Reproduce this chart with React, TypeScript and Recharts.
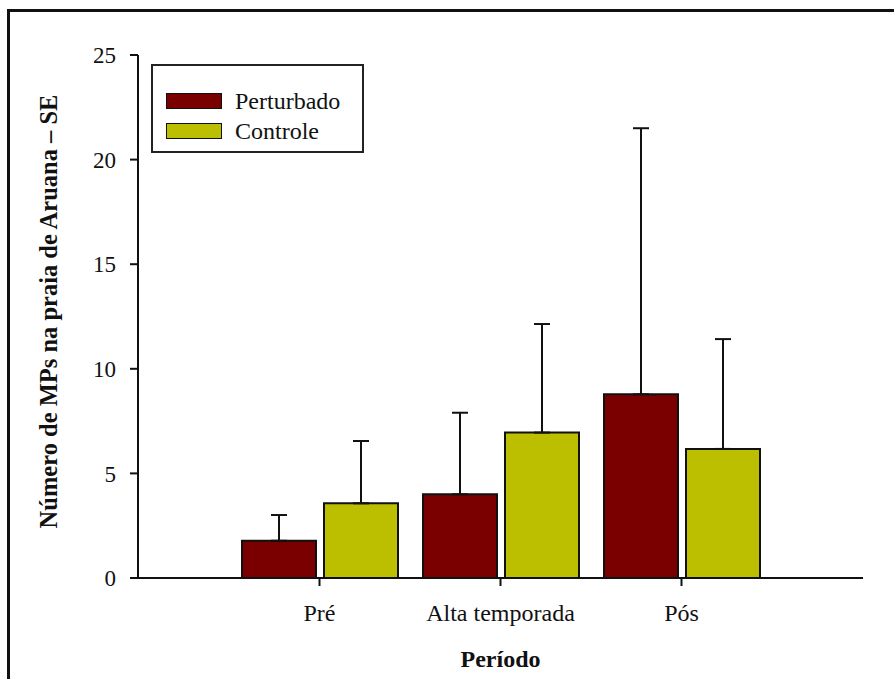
import React from 'react';
import { BarChart, Bar, XAxis, YAxis, ErrorBar, Legend } from 'recharts';

const categories = ['Pré', 'Alta temporada', 'Pós'];
const seriesNames = ['Perturbado', 'Controle'];
const perturbado = [1.78, 4.0, 8.78];
const perturbadoSE = [1.23, 3.9, 12.72];
const controle = [3.57, 6.95, 6.17];
const controleSE = [2.98, 5.19, 5.25];
const yTicks = [0, 5, 10, 15, 20, 25];

const data = categories.map((c, i) => ({
  periodo: c,
  Perturbado: perturbado[i],
  perturbadoErr: [0, perturbadoSE[i]],
  Controle: controle[i],
  controleErr: [0, controleSE[i]],
}));

const FONT = "'Liberation Serif', 'Times New Roman', serif";
const COLORS = { Perturbado: '#7a0000', Controle: '#bbbf00' };

const LegendBox = (props: any) => {
  const payload = [...(props.payload || [])].sort(
    (a: any, b: any) => seriesNames.indexOf(a.value) - seriesNames.indexOf(b.value)
  );
  return (
    <div
      style={{
        width: 213,
        height: 89,
        boxSizing: 'border-box',
        border: '2px solid #222',
        background: '#fff',
        paddingTop: 20,
        paddingLeft: 13,
        fontFamily: FONT,
      }}
    >
      {payload.map((p: any) => (
        <div key={p.value} style={{ display: 'flex', alignItems: 'center', height: 30 }}>
          <div
            style={{
              width: 56,
              height: 16,
              boxSizing: 'border-box',
              background: p.color,
              border: '1.5px solid #111',
              marginRight: 13,
            }}
          />
          <span style={{ fontSize: 24, color: '#111', lineHeight: '30px', fontFamily: FONT }}>{p.value}</span>
        </div>
      ))}
    </div>
  );
};

const YLabel = (props: any) => {
  const vb = props.viewBox || {};
  const cx = vb.x + 48;
  const cy = vb.y + vb.height / 2 - 5;
  return (
    <text
      x={cx}
      y={cy}
      transform={`rotate(-90, ${cx}, ${cy})`}
      textAnchor="middle"
      dominantBaseline="central"
      fontFamily={FONT}
      fontWeight="bold"
      fontSize={24.5}
      fill="#111"
    >
      Número de MPs na praia de Aruana – SE
    </text>
  );
};

const XLabel = (props: any) => {
  const vb = props.viewBox || {};
  return (
    <text
      x={vb.x + vb.width / 2}
      y={vb.y + 89}
      textAnchor="middle"
      fontFamily={FONT}
      fontWeight="bold"
      fontSize={24}
      fill="#111"
    >
      Período
    </text>
  );
};

export default function App() {
  return (
    <div style={{ position: 'absolute', left: 0, top: 0, width: 894, height: 679, background: '#fff', overflow: 'hidden' }}>
      <div
        style={{
          position: 'absolute',
          left: 7,
          top: 9,
          width: 900,
          height: 700,
          border: '3px solid #111',
          boxSizing: 'border-box',
        }}
      />
      <div style={{ position: 'absolute', left: 0, top: 0 }}>
        <BarChart
          width={894}
          height={679}
          data={data}
          margin={{ top: 55, right: 31, bottom: 0, left: 0 }}
          barSize={74}
          barGap={8}
        >
          <XAxis
            dataKey="periodo"
            height={101}
            padding={{ left: 91, right: 91 }}
            tickSize={8}
            tickMargin={18}
            axisLine={{ stroke: '#111', strokeWidth: 2 }}
            tickLine={{ stroke: '#111', strokeWidth: 2 }}
            tick={{ fontSize: 24, fill: '#111', fontFamily: FONT }}
            label={{ content: XLabel }}
          />
          <XAxis
            xAxisId="top"
            dataKey="periodo"
            orientation="top"
            height={0}
            tick={false}
            tickLine={false}
            axisLine={{ stroke: '#222', strokeWidth: 2 }}
          />
          <YAxis
            width={138}
            domain={[0, 25]}
            ticks={yTicks}
            tickSize={8}
            tickMargin={14}
            axisLine={{ stroke: '#111', strokeWidth: 2 }}
            tickLine={{ stroke: '#111', strokeWidth: 2 }}
            tick={{ fontSize: 23, fill: '#111', fontFamily: FONT }}
            label={{ content: YLabel }}
          />
          <YAxis
            yAxisId="right"
            orientation="right"
            width={0}
            domain={[0, 25]}
            tick={false}
            tickLine={false}
            axisLine={{ stroke: '#222', strokeWidth: 2 }}
          />
          <Legend
            layout="vertical"
            align="center"
            verticalAlign="middle"
            content={LegendBox}
            wrapperStyle={{ position: 'absolute', left: 151, top: 64, width: 213, height: 89 }}
          />
          <Bar dataKey="Perturbado" fill={COLORS.Perturbado} stroke="#111" strokeWidth={2} isAnimationActive={false}>
            <ErrorBar dataKey="perturbadoErr" width={8} stroke="#111" strokeWidth={2} direction="y" />
          </Bar>
          <Bar dataKey="Controle" fill={COLORS.Controle} stroke="#111" strokeWidth={2} isAnimationActive={false}>
            <ErrorBar dataKey="controleErr" width={8} stroke="#111" strokeWidth={2} direction="y" />
          </Bar>
        </BarChart>
      </div>
    </div>
  );
}
